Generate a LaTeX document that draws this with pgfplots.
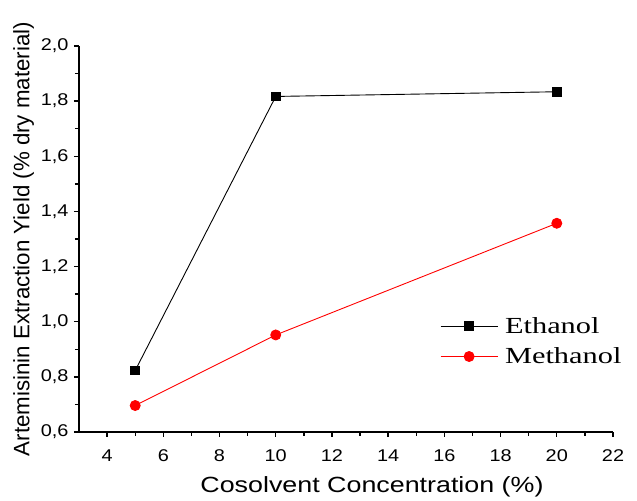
\documentclass[border=0pt]{standalone}
\usepackage{fontspec}
\setmainfont{Liberation Sans}
\newfontfamily\timesfont[FakeStretch=1.32]{Liberation Serif}
\newfontfamily\widesans[FakeStretch=1.17]{Liberation Sans}
\newfontfamily\xlabfont[FakeStretch=1.22]{Liberation Sans}
\usepackage{pgfplots}
\pgfplotsset{compat=1.18}
\begin{document}
\begin{tikzpicture}
\begin{axis}[
  name=ax,
  scale only axis,
  width=534pt, height=386pt,
  xmin=3, xmax=22, ymin=0.6, ymax=2.0,
  axis x line*=bottom, axis y line*=left,
  axis line style={line width=1.6pt,-},
  xtick={4,6,...,22}, minor xtick={5,7,...,21},
  ytick={0.6,0.8,...,2.01}, minor ytick={0.7,0.9,...,1.91},
  tick align=outside,
  major tick length=5pt, minor tick length=4pt,
  tick style={line width=1.4pt,black},
  /pgf/number format/assume math mode=true,
  yticklabel style={xshift=-2pt,/pgf/number format/.cd,fixed,fixed zerofill,precision=1,use comma},
  ticklabel style={font=\widesans\fontsize{17}{17}\selectfont},
  xticklabel style={yshift=-9pt},
  xlabel={Cosolvent Concentration (\%)},
  ylabel={Artemisinin Extraction Yield (\% dry material)},
  xlabel style={font=\xlabfont\fontsize{22}{22}\selectfont, yshift=-8pt, xshift=26pt},
  ylabel style={font=\fontsize{22.3}{22}\selectfont},
  legend style={draw=none, fill=none, at={(0.676,0.235)}, anchor=west,
    font=\timesfont\fontsize{23}{24}\selectfont, inner sep=0pt,
    row sep=9pt, nodes={inner sep=2pt}},
  legend cell align=left,
  legend image code/.code={\draw[#1,mark=none] (0pt,0pt) -- (57pt,0pt);
    \draw[#1, only marks] plot coordinates {(28.5pt,0pt)};
    \path (62pt,0pt);},
]
\addplot[black, line width=0.9pt, mark=square*, mark size=4.4pt, mark options={solid}]
  coordinates {(5,0.823) (10,1.817) (20,1.834)};
\addlegendentry{Ethanol}
\addplot[red, line width=0.9pt, mark=*, mark size=5pt, mark options={solid}]
  coordinates {(5,0.696) (10,0.952) (20,1.357)};
\addlegendentry{Methanol}
\end{axis}
\path[use as bounding box] ([shift={(-79pt,-65pt)}]ax.south west) rectangle ([shift={(24pt,46pt)}]ax.north east);
\end{tikzpicture}
\end{document}
